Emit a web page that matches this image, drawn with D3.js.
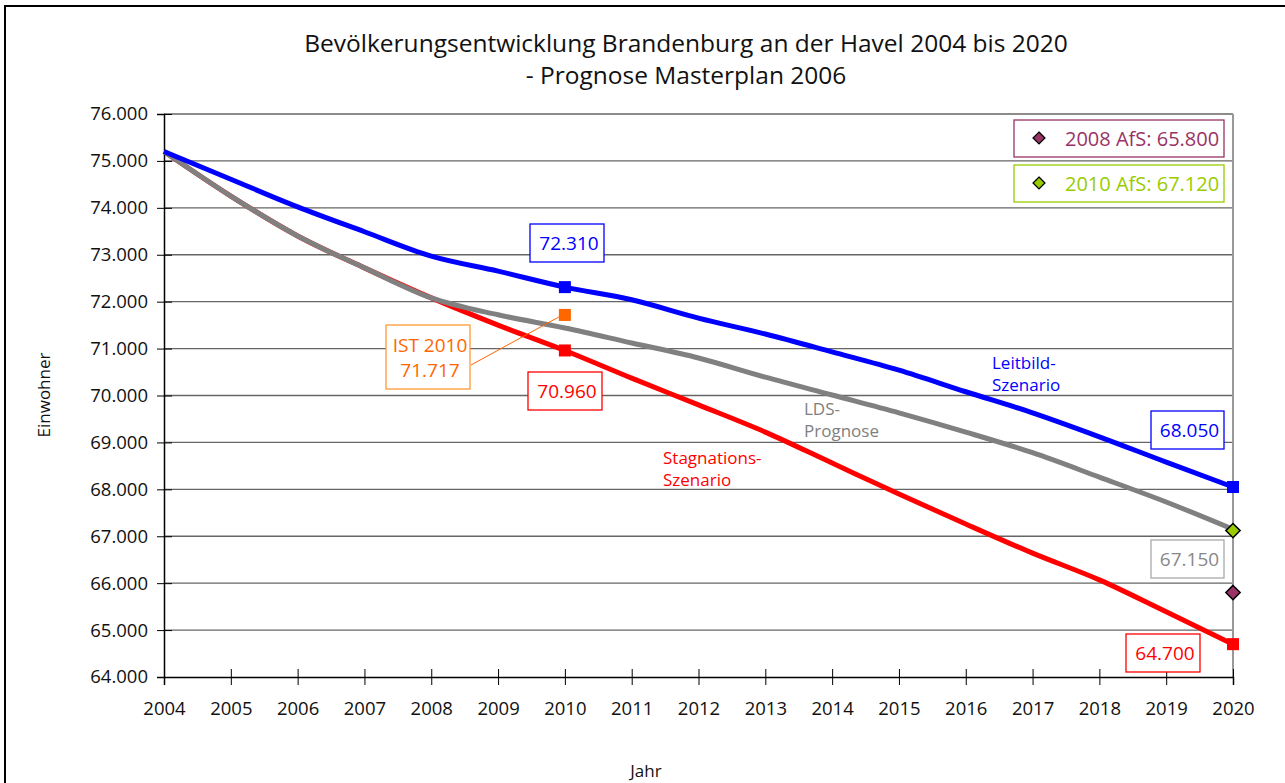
<!DOCTYPE html>
<html>
<head>
<meta charset="utf-8">
<script src="https://cdn.jsdelivr.net/npm/d3@7"></script>
<style>
  body { margin: 0; background: #fff; }
  svg { display: block; font-family: "Open Sans", sans-serif; }
</style>
</head>
<body>
<svg id="chart" width="1285" height="783"></svg>
<script>
// years on the x axis
const years = d3.range(2004, 2021);

// Leitbild-Szenario (blue)
const leitbild = [75200, 74610, 74020, 73490, 72970, 72650, 72310, 72040, 71650,
                  71310, 70930, 70540, 70080, 69630, 69120, 68580, 68050];
// LDS-Prognose (gray)
const lds = [75200, 74250, 73400, 72720, 72080, 71720, 71440, 71120, 70800,
             70390, 70010, 69630, 69220, 68780, 68260, 67730, 67150];
// Stagnations-Szenario (red), shares the LDS path until 2008
const stagnation = [75200, 74250, 73400, 72720, 72080, 71500, 70960, 70370, 69800,
                    69220, 68560, 67900, 67260, 66640, 66070, 65390, 64700];

const istYear = 2010, istValue = 71717;
const afs = [
  {label: "2008 AfS: 65.800", year: 2020, value: 65800, color: "#993366"},
  {label: "2010 AfS: 67.120", year: 2020, value: 67120, color: "#99cc00"}
];
const yTicks = d3.range(64000, 76001, 1000);

const fmt = v => d3.format(",")(v).replace(/,/g, ".");

const svg = d3.select("#chart");
const x = d3.scaleLinear().domain([2004, 2020]).range([164, 1233]);
const y = d3.scaleLinear().domain([64000, 76000]).range([677, 114]);

// outer frame
svg.append("rect")
  .attr("x", 5).attr("y", 6).attr("width", 1300).attr("height", 800)
  .attr("fill", "none").attr("stroke", "#000").attr("stroke-width", 2);

// title
svg.append("text").attr("x", 686).attr("y", 52)
  .attr("text-anchor", "middle").style("font-size", "24.5px").attr("fill", "#111")
  .text("Bevölkerungsentwicklung Brandenburg an der Havel 2004 bis 2020");
svg.append("text").attr("x", 686).attr("y", 84)
  .attr("text-anchor", "middle").style("font-size", "24.5px").attr("fill", "#111")
  .text("- Prognose Masterplan 2006");

// gridlines
svg.append("g").selectAll("line").data(yTicks.slice(1)).join("line")
  .attr("x1", x(2004)).attr("x2", x(2020))
  .attr("y1", d => y(d)).attr("y2", d => y(d))
  .attr("stroke", "#666").attr("stroke-width", 1.3);

// plot area right border
svg.append("line").attr("x1", x(2020)).attr("x2", x(2020))
  .attr("y1", y(76000)).attr("y2", y(64000))
  .attr("stroke", "#999").attr("stroke-width", 2);

// y axis
const yAxis = svg.append("g").attr("transform", `translate(${x(2004)},0)`)
  .call(d3.axisLeft(y).tickValues(yTicks).tickFormat(fmt).tickSize(7).tickPadding(9));
yAxis.selectAll(".tick line").attr("x2", 0).attr("x1", -7).clone().attr("x1", 0).attr("x2", 8);
yAxis.select(".domain").attr("stroke", "#000").attr("stroke-width", 1.5);
yAxis.selectAll("text").style("font-size", "18.5px").attr("fill", "#111").attr("font-family", "Open Sans");

// x axis
const xAxis = svg.append("g").attr("transform", `translate(0,${y(64000)})`)
  .call(d3.axisBottom(x).tickValues(years).tickFormat(d3.format("d")).tickSize(8).tickPadding(17));
xAxis.selectAll(".tick line").clone().attr("y2", -8);
xAxis.select(".domain").attr("stroke", "#000").attr("stroke-width", 1.5);
xAxis.selectAll("text").style("font-size", "18.5px").attr("fill", "#111").attr("font-family", "Open Sans");

// axis titles
svg.append("text").attr("transform", "translate(50,395) rotate(-90)")
  .attr("text-anchor", "middle").style("font-size", "17px").attr("fill", "#111").text("Einwohner");
svg.append("text").attr("x", 646).attr("y", 777)
  .attr("text-anchor", "middle").style("font-size", "17px").attr("fill", "#111").text("Jahr");

// series lines
const line = d3.line().x(d => x(d[0])).y(d => y(d[1])).curve(d3.curveMonotoneX);
const series = [
  {vals: stagnation, color: "#ff0000"},
  {vals: lds, color: "#808080"},
  {vals: leitbild, color: "#0000ff"}
];
series.forEach(s => {
  svg.append("path").datum(years.map((yr, i) => [yr, s.vals[i]]))
    .attr("d", line).attr("fill", "none")
    .attr("stroke", s.color).attr("stroke-width", 5).attr("stroke-linejoin", "round");
});

// square markers
const squares = [
  {year: 2010, value: leitbild[6], color: "#0000ff"},
  {year: 2020, value: leitbild[16], color: "#0000ff"},
  {year: 2010, value: stagnation[6], color: "#ff0000"},
  {year: 2020, value: stagnation[16], color: "#ff0000"},
  {year: istYear, value: istValue, color: "#ff6600"}
];
svg.append("g").selectAll("rect").data(squares).join("rect")
  .attr("x", d => x(d.year) - 6).attr("y", d => y(d.value) - 6)
  .attr("width", 12).attr("height", 12).attr("fill", d => d.color);

// AfS diamonds
const diamond = d3.symbol().type(d3.symbolDiamond2).size(130);
svg.append("g").selectAll("path").data(afs).join("path")
  .attr("d", diamond)
  .attr("transform", d => `translate(${x(d.year)},${y(d.value)})`)
  .attr("fill", d => d.color).attr("stroke", "#000").attr("stroke-width", 1.5);

// IST leader line
svg.append("line").attr("x1", 471).attr("y1", 365)
  .attr("x2", x(istYear) - 6).attr("y2", y(istValue) + 2)
  .attr("stroke", "#ff6600").attr("stroke-width", 1);

// value label boxes
function box(bx, by, w, h, lines, color, border) {
  svg.append("rect").attr("x", bx).attr("y", by).attr("width", w).attr("height", h)
    .attr("fill", "#fff").attr("stroke", border || color).attr("stroke-width", 1.3);
  lines.forEach((t, i) => {
    svg.append("text").attr("x", bx + w / 2 + 2).attr("y", by + h / 2 + 7 + (i - (lines.length - 1) / 2) * 25)
      .attr("text-anchor", "middle").style("font-size", "19px").attr("fill", color).text(t);
  });
}
box(530, 224, 74, 38, [fmt(leitbild[6])], "#0000ff");
box(528, 372, 74, 38, [fmt(stagnation[6])], "#ff0000");
box(1151, 411, 73, 38, [fmt(leitbild[16])], "#0000ff");
box(1151, 540, 73, 38, [fmt(lds[16])], "#888888", "#aaaaaa");
box(1126, 634, 74, 38, [fmt(stagnation[16])], "#ff0000");
box(386, 325, 84, 64, ["IST " + istYear, fmt(istValue)], "#ff6600", "#ff9933");

// legend boxes for the AfS points
afs.forEach((d, i) => {
  const by = 120 + i * 45;
  svg.append("rect").attr("x", 1014).attr("y", by).attr("width", 210).attr("height", 37)
    .attr("fill", "#fff").attr("stroke", d.color).attr("stroke-width", 1.3);
  svg.append("path").attr("d", d3.symbol().type(d3.symbolDiamond2).size(90))
    .attr("transform", `translate(1039,${by + 18})`)
    .attr("fill", d.color).attr("stroke", "#000").attr("stroke-width", 1.3);
  svg.append("text").attr("x", 1065).attr("y", by + 26)
    .style("font-size", "20px").attr("fill", d.color).text(d.label);
});

// series name labels
const names = [
  {lines: ["Leitbild-", "Szenario"], x: 992, y: 369, color: "#0000ff"},
  {lines: ["LDS-", "Prognose"], x: 804, y: 415, color: "#808080"},
  {lines: ["Stagnations-", "Szenario"], x: 663, y: 464, color: "#ff0000"}
];
names.forEach(n => {
  n.lines.forEach((t, i) => {
    svg.append("text").attr("x", n.x).attr("y", n.y + i * 22)
      .style("font-size", "17px").attr("fill", n.color).text(t);
  });
});
</script>
</body>
</html>
